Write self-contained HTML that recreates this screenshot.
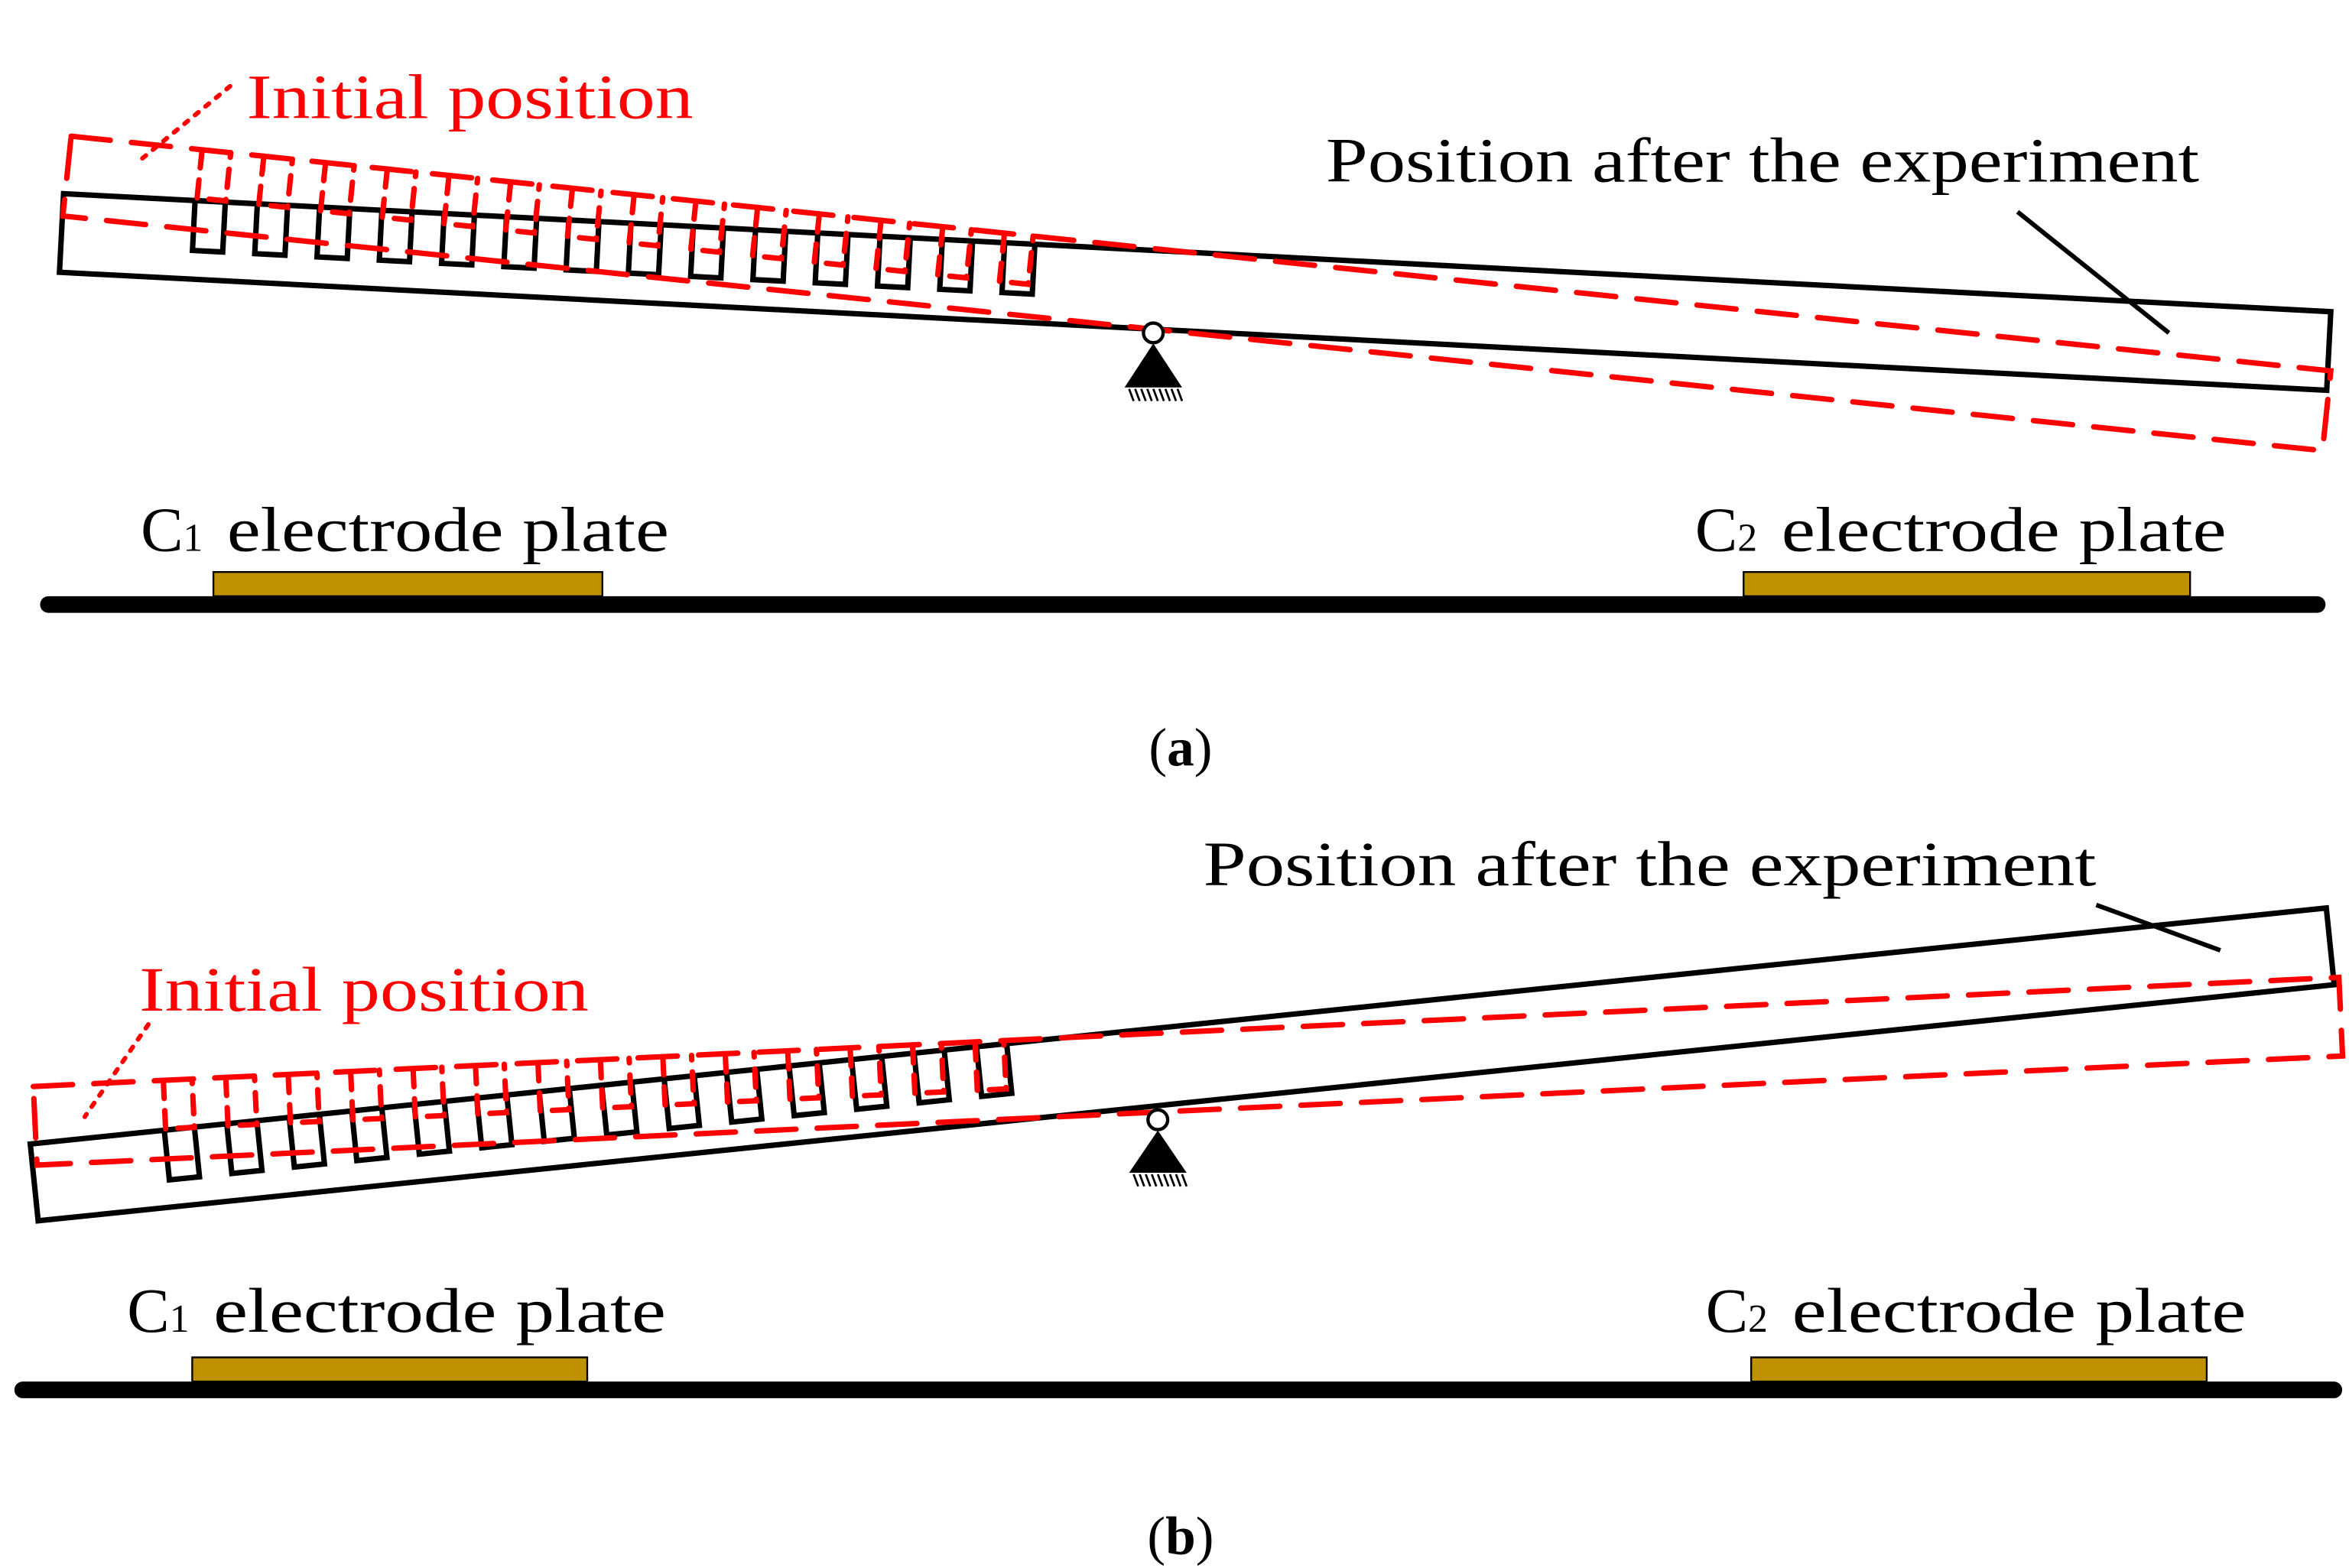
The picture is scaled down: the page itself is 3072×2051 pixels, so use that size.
<!DOCTYPE html>
<html><head><meta charset="utf-8"><style>html,body{margin:0;padding:0;background:#fff}svg{display:block}</style></head>
<body>
<svg width="3072" height="2051" viewBox="0 0 1552 1036.2" preserveAspectRatio="none" xmlns="http://www.w3.org/2000/svg" font-family="'Liberation Serif', serif">
<defs>
<path id="bt" d="M0,0 V33 H20 V0" fill="none" stroke="#000" stroke-width="3.6" stroke-linejoin="miter"/>
<path id="rt" d="M0,0 V32 H19 V0" fill="none" stroke="#f00" stroke-width="3.6" stroke-dasharray="12 8" stroke-linecap="round"/>
</defs>

<!-- ===== Panel (a) ===== -->
<!-- black beam -->
<g transform="translate(42,128) rotate(2.98)">
<rect x="0" y="0" width="1500" height="52" fill="none" stroke="#000" stroke-width="3.6"/>
<use href="#bt" x="87"/><use href="#bt" x="128.2"/><use href="#bt" x="169.4"/><use href="#bt" x="210.6"/><use href="#bt" x="251.8"/><use href="#bt" x="293"/><use href="#bt" x="334.2"/><use href="#bt" x="375.4"/><use href="#bt" x="416.6"/><use href="#bt" x="457.8"/><use href="#bt" x="499"/><use href="#bt" x="540.2"/><use href="#bt" x="581.4"/><use href="#bt" x="622.6"/>
</g>
<!-- red initial beam -->
<g transform="translate(47,90) rotate(5.93)">
<rect x="0" y="0" width="1501" height="53" fill="none" stroke="#f00" stroke-width="3.6" stroke-dasharray="26 14" stroke-linecap="round"/>
<use href="#rt" x="87"/><use href="#rt" x="128"/><use href="#rt" x="169"/><use href="#rt" x="210"/><use href="#rt" x="251"/><use href="#rt" x="292"/><use href="#rt" x="333"/><use href="#rt" x="374"/><use href="#rt" x="415"/><use href="#rt" x="456"/><use href="#rt" x="497"/><use href="#rt" x="538"/><use href="#rt" x="579"/><use href="#rt" x="620"/>
</g>
<!-- pivot a -->
<circle cx="762" cy="220" r="6.5" fill="#fff" stroke="#000" stroke-width="2.2"/>
<polygon points="762,227 743,256 781,256" fill="#000"/>
<g stroke="#000" stroke-width="1.4">
<line x1="746" y1="257" x2="749" y2="265"/><line x1="750" y1="257" x2="753" y2="265"/><line x1="754" y1="257" x2="757" y2="265"/><line x1="758" y1="257" x2="761" y2="265"/><line x1="762" y1="257" x2="765" y2="265"/><line x1="766" y1="257" x2="769" y2="265"/><line x1="770" y1="257" x2="773" y2="265"/><line x1="774" y1="257" x2="777" y2="265"/><line x1="778" y1="257" x2="781" y2="265"/>
</g>
<!-- labels a -->
<text x="163" y="78" font-size="42" fill="#f00" textLength="295" lengthAdjust="spacingAndGlyphs">Initial position</text>
<line x1="152" y1="57" x2="90" y2="108" stroke="#f00" stroke-width="3" stroke-dasharray="3 6" stroke-linecap="round"/>
<text x="876" y="120" font-size="42" fill="#000" textLength="577" lengthAdjust="spacingAndGlyphs">Position after the experiment</text>
<line x1="1333" y1="140" x2="1433" y2="220" stroke="#000" stroke-width="3"/>
<text x="93" y="364" font-size="42" fill="#000">C</text><text x="121" y="364" font-size="26" fill="#000">1</text>
<text x="150" y="364" font-size="42" fill="#000" textLength="292" lengthAdjust="spacingAndGlyphs">electrode plate</text>
<text x="1120" y="364" font-size="42" fill="#000">C</text><text x="1148" y="364" font-size="26" fill="#000">2</text>
<text x="1177" y="364" font-size="42" fill="#000" textLength="294" lengthAdjust="spacingAndGlyphs">electrode plate</text>
<rect x="141" y="378" width="257" height="16" fill="#bf9000" stroke="#000" stroke-width="1.2"/>
<rect x="1152" y="378" width="295" height="16" fill="#bf9000" stroke="#000" stroke-width="1.2"/>
<line x1="32" y1="399.5" x2="1531" y2="399.5" stroke="#000" stroke-width="11" stroke-linecap="round"/>
<text x="780" y="506" font-size="36" fill="#000" text-anchor="middle">(<tspan font-weight="bold">a</tspan>)</text>

<!-- ===== Panel (b) ===== -->
<g transform="translate(20,756) rotate(-5.87)">
<rect x="0" y="0" width="1525" height="51" fill="none" stroke="#000" stroke-width="3.6"/>
<use href="#bt" x="89"/><use href="#bt" x="130.5"/><use href="#bt" x="172"/><use href="#bt" x="213.5"/><use href="#bt" x="255"/><use href="#bt" x="296.5"/><use href="#bt" x="338"/><use href="#bt" x="379.5"/><use href="#bt" x="421"/><use href="#bt" x="462.5"/><use href="#bt" x="504"/><use href="#bt" x="545.5"/><use href="#bt" x="587"/><use href="#bt" x="628.5"/>
</g>
<g transform="translate(22,718) rotate(-2.71)">
<rect x="0" y="0" width="1525" height="52" fill="none" stroke="#f00" stroke-width="3.6" stroke-dasharray="26 14" stroke-linecap="round"/>
<use href="#rt" x="86"/><use href="#rt" x="127.3"/><use href="#rt" x="168.6"/><use href="#rt" x="209.9"/><use href="#rt" x="251.2"/><use href="#rt" x="292.5"/><use href="#rt" x="333.8"/><use href="#rt" x="375.1"/><use href="#rt" x="416.4"/><use href="#rt" x="457.7"/><use href="#rt" x="499"/><use href="#rt" x="540.3"/><use href="#rt" x="581.6"/><use href="#rt" x="622.9"/>
</g>
<circle cx="765" cy="740" r="6.5" fill="#fff" stroke="#000" stroke-width="2.2"/>
<polygon points="765,747 746,775 784,775" fill="#000"/>
<g stroke="#000" stroke-width="1.4">
<line x1="749" y1="776" x2="752" y2="784"/><line x1="753" y1="776" x2="756" y2="784"/><line x1="757" y1="776" x2="760" y2="784"/><line x1="761" y1="776" x2="764" y2="784"/><line x1="765" y1="776" x2="768" y2="784"/><line x1="769" y1="776" x2="772" y2="784"/><line x1="773" y1="776" x2="776" y2="784"/><line x1="777" y1="776" x2="780" y2="784"/><line x1="781" y1="776" x2="784" y2="784"/>
</g>
<text x="92" y="668" font-size="42" fill="#f00" textLength="297" lengthAdjust="spacingAndGlyphs">Initial position</text>
<line x1="98" y1="677" x2="56" y2="738" stroke="#f00" stroke-width="3" stroke-dasharray="3 6" stroke-linecap="round"/>
<text x="795" y="585" font-size="42" fill="#000" textLength="590" lengthAdjust="spacingAndGlyphs">Position after the experiment</text>
<line x1="1385" y1="598" x2="1467" y2="628" stroke="#000" stroke-width="3"/>
<text x="84" y="880" font-size="42" fill="#000">C</text><text x="112" y="880" font-size="26" fill="#000">1</text>
<text x="141" y="880" font-size="42" fill="#000" textLength="299" lengthAdjust="spacingAndGlyphs">electrode plate</text>
<text x="1127" y="880" font-size="42" fill="#000">C</text><text x="1155" y="880" font-size="26" fill="#000">2</text>
<text x="1184" y="880" font-size="42" fill="#000" textLength="300" lengthAdjust="spacingAndGlyphs">electrode plate</text>
<rect x="127" y="897" width="261" height="16" fill="#bf9000" stroke="#000" stroke-width="1.2"/>
<rect x="1157" y="897" width="301" height="16" fill="#bf9000" stroke="#000" stroke-width="1.2"/>
<line x1="15" y1="918.5" x2="1542" y2="918.5" stroke="#000" stroke-width="11" stroke-linecap="round"/>
<text x="780" y="1027" font-size="36" fill="#000" text-anchor="middle">(<tspan font-weight="bold">b</tspan>)</text>
</svg>
</body></html>
